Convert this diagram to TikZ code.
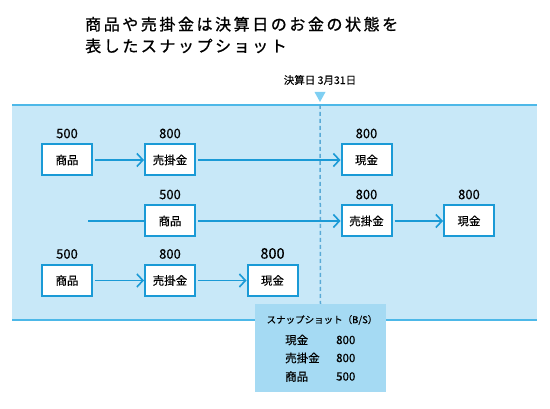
\documentclass[tikz,border=0pt]{standalone}
\usepackage{fontspec}
\setmainfont[FakeBold=0.4]{Noto Sans CJK JP}
\newfontfamily\titlefont[LetterSpace=16,FakeBold=0.9]{Noto Sans CJK JP}
\usetikzlibrary{arrows.meta}
\definecolor{bandfill}{HTML}{C8E8F8}
\definecolor{bandline}{HTML}{4DB8E8}
\definecolor{flowblue}{HTML}{1A9AD6}
\definecolor{cutblue}{HTML}{5AAAD6}
\definecolor{markblue}{HTML}{7FCFF2}
\definecolor{snapfill}{HTML}{A5DAF3}

\begin{document}
\begin{tikzpicture}[x=1pt,y=-1pt,
  box/.style={draw=flowblue,line width=2pt,fill=white,minimum width=50pt,
    minimum height=31pt,inner sep=0pt,font=\fontsize{11.5}{12}\selectfont},
  amount/.style={label={[font=\fontsize{13}{13}\selectfont,inner sep=0pt,
    label distance=5pt]above:#1}},
  bigamount/.style={label={[font=\fontsize{14.5}{14.5}\selectfont,inner sep=0pt,
    label distance=5pt]above:#1}},
  flow/.style={draw=flowblue,line width=1.6pt,shorten <=2pt,
    -{Straight Barb[length=6pt,width=13pt,line width=1.6pt]}},
  snaptext/.style={anchor=west,inner sep=0pt,font=\fontsize{11.5}{12}\selectfont}]
  \useasboundingbox (0,0) rectangle (550,409);
  \node[anchor=west,align=left,inner sep=0pt,
    font=\titlefont\fontsize{16}{21.7}\selectfont] (title) at (85,35)
    {商品や売掛金は決算日のお金の状態を\\表したスナップショット};
  \fill[bandfill] (12,105) rectangle (537,320);
  \draw[bandline,line width=1.6pt] (12,105) -- (537,105);
  \draw[bandline,line width=1.6pt] (12,320) -- (537,320);
  \node[font=\fontsize{10.5}{11}\selectfont] (date) at (320,80) {決算日 3月31日};
  \fill[markblue] (314.5,92) -- (325.5,92) -- (320,102) -- cycle;
  \coordinate (cutoff) at (320,105);
  \node[fill=snapfill,minimum width=131pt,minimum height=88pt] (snap) at (320.5,348) {};
  \draw[cutblue,line width=1.5pt,dash pattern=on 4pt off 3pt] (cutoff) -- (snap.north);
  \node[box,amount=500] (r1a) at (67,160) {商品};
  \node[box,amount=800] (r1b) at (170,160) {売掛金};
  \node[box,amount=800] (r1c) at (366.5,160) {現金};
  \coordinate (r2start) at (88,221);
  \node[box,amount=500] (r2a) at (170,221) {商品};
  \node[box,amount=800] (r2b) at (366.5,221) {売掛金};
  \node[box,amount=800] (r2c) at (469,221) {現金};
  \node[box,amount=500] (r3a) at (67,280.5) {商品};
  \node[box,amount=800] (r3b) at (170,280.5) {売掛金};
  \node[box,bigamount=800] (r3c) at (272.5,280.5) {現金};
  \draw[flow] (r1a) -- (r1b);
  \draw[flow] (r1b) -- (r1c);
  \draw[flowblue,line width=1.6pt] (r2start) -- (r2a);
  \draw[flow] (r2a) -- (r2b);
  \draw[flow] (r2b) -- (r2c);
  \draw[flow] (r3a) -- (r3b);
  \draw[flow] (r3b) -- (r3c);
  \node[inner sep=0pt,font=\fontsize{9.5}{10}\selectfont] (snaptitle) at (322,320)
    {スナップショット（B/S）};
  \node[snaptext] (cashname) at (285,340) {現金};
  \node[snaptext] (cashvalue) at (336,340) {800};
  \node[snaptext] (recvname) at (285,358) {売掛金};
  \node[snaptext] (recvvalue) at (336,358) {800};
  \node[snaptext] (goodsname) at (285,376.5) {商品};
  \node[snaptext] (goodsvalue) at (336,376.5) {500};
\end{tikzpicture}
\end{document}
